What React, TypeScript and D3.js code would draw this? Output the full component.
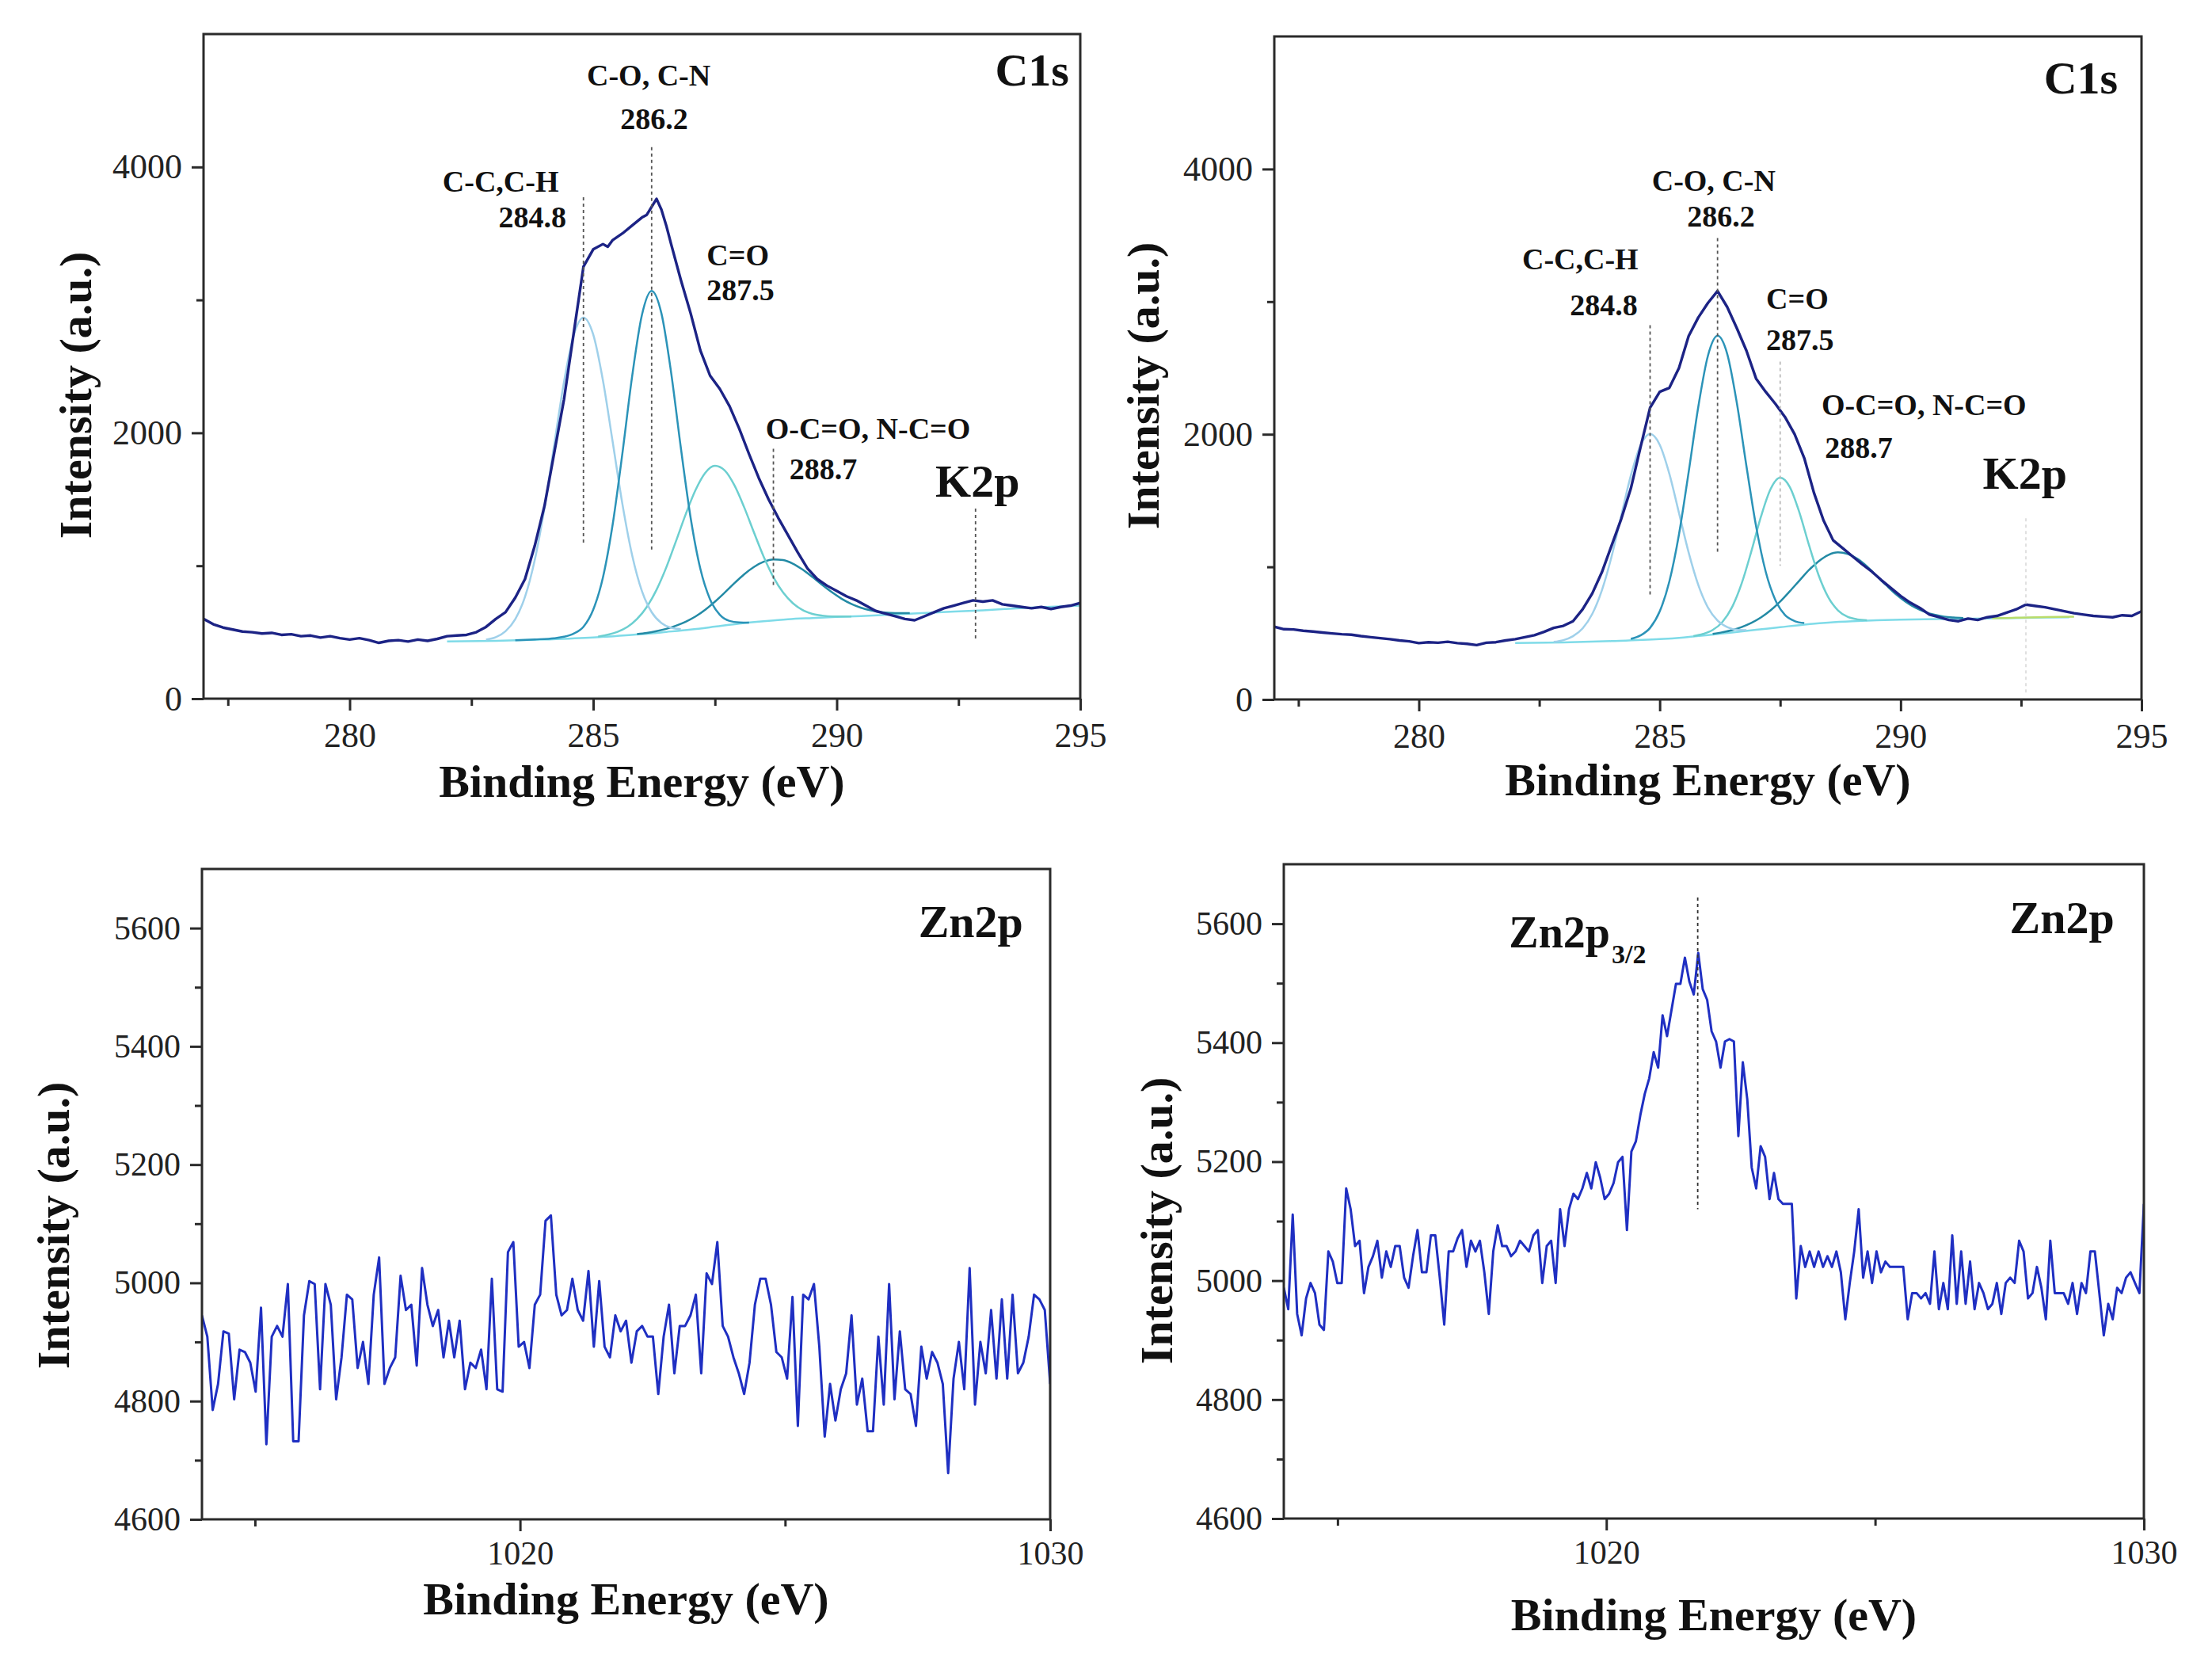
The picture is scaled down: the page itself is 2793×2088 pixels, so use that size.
import React, { useRef, useEffect } from 'react';
import * as d3 from 'd3';

type Pt = [number, number];

const FONT = '"Liberation Serif", "Times New Roman", serif';

// ---- C1s, first sample (top left) ----
const c1sEnvelope1: Pt[] = [
  [277.0, 600], [277.2, 560], [277.4, 535], [277.6, 520], [277.8, 505], [278.0, 500], [278.2, 490], [278.4, 495],
  [278.6, 480], [278.8, 485], [279.0, 470], [279.2, 475], [279.4, 460], [279.6, 470], [279.8, 455], [280.0, 445],
  [280.2, 455], [280.4, 440], [280.6, 420], [280.8, 435], [281.0, 440], [281.2, 430], [281.4, 445], [281.6, 435],
  [281.8, 450], [282.0, 470], [282.2, 475], [282.4, 480], [282.6, 500], [282.8, 540], [283.0, 600], [283.2, 650],
  [283.4, 760], [283.6, 900], [283.8, 1150], [284.0, 1450], [284.2, 1850], [284.4, 2250], [284.6, 2750], [284.8, 3250],
  [285.0, 3380], [285.2, 3420], [285.3, 3400], [285.4, 3450], [285.6, 3500], [285.8, 3560], [286.0, 3620], [286.1, 3640],
  [286.2, 3700], [286.3, 3760], [286.4, 3680], [286.5, 3560], [286.6, 3420], [286.8, 3150], [287.0, 2900], [287.2, 2620],
  [287.4, 2430], [287.6, 2330], [287.8, 2200], [288.0, 2030], [288.2, 1840], [288.4, 1660], [288.6, 1500], [288.8, 1360],
  [289.0, 1230], [289.2, 1100], [289.4, 980], [289.6, 900], [289.8, 850], [290.0, 810], [290.2, 770], [290.4, 740],
  [290.6, 700], [290.8, 660], [291.0, 640], [291.2, 620], [291.4, 600], [291.6, 590], [291.8, 620], [292.0, 650],
  [292.2, 680], [292.4, 700], [292.6, 720], [292.8, 740], [293.0, 730], [293.2, 740], [293.4, 710], [293.6, 700],
  [293.8, 690], [294.0, 680], [294.2, 690], [294.4, 675], [294.6, 690], [294.8, 700], [295.0, 720],
];
const c1sBackground1: Pt[] = [
  [282, 430], [283, 435], [284, 445], [285, 460], [285.5, 472], [286, 485], [286.5, 502], [287, 520], [287.5, 542],
  [288, 565], [288.5, 583], [289, 598], [289.5, 607], [290, 615], [290.5, 622], [291, 630], [292, 648], [293, 665],
  [294, 685], [295, 700],
];
const c1sCC1: Pt[] = [
  [282.8, 444], [283.0, 462], [283.2, 507], [283.4, 598], [283.6, 766], [283.8, 1043], [284.0, 1435], [284.2, 1911],
  [284.4, 2381], [284.6, 2734], [284.8, 2867], [285.0, 2740], [285.2, 2394], [285.4, 1932], [285.6, 1464], [285.8, 1079],
  [286.0, 810], [286.2, 651], [286.4, 569], [286.6, 533], [286.8, 523],
];
const c1sCO1: Pt[] = [
  [283.4, 440], [283.8, 446], [284.2, 455], [284.4, 466], [284.6, 490], [284.8, 541], [285.0, 669], [285.2, 912],
  [285.4, 1311], [285.6, 1847], [285.8, 2426], [286.0, 2886], [286.2, 3068], [286.4, 2900], [286.6, 2453], [286.8, 1886],
  [287.0, 1362], [287.2, 977], [287.4, 747], [287.6, 631], [287.8, 585], [288.0, 574], [288.2, 572],
];
const c1sCdO1: Pt[] = [
  [285.1, 467], [285.3, 481], [285.5, 503], [285.7, 539], [285.9, 599], [286.1, 690], [286.3, 819], [286.5, 987],
  [286.7, 1185], [286.9, 1388], [287.1, 1569], [287.3, 1699], [287.5, 1752], [287.7, 1717], [287.9, 1605], [288.1, 1440],
  [288.3, 1251], [288.5, 1068], [288.7, 914], [288.9, 798], [289.1, 718], [289.3, 667], [289.5, 638], [289.7, 625],
  [289.9, 619], [290.3, 619],
];
const c1sOCO1: Pt[] = [
  [285.9, 486], [286.1, 495], [286.3, 508], [286.5, 525], [286.7, 549], [286.9, 579], [287.1, 618], [287.3, 669],
  [287.5, 730], [287.7, 798], [287.9, 869], [288.1, 936], [288.3, 991], [288.5, 1030], [288.7, 1048], [288.9, 1043],
  [289.1, 1016], [289.3, 971], [289.5, 916], [289.7, 857], [289.9, 801], [290.1, 752], [290.3, 713], [290.5, 684],
  [290.7, 664], [290.9, 651], [291.1, 645], [291.3, 643], [291.5, 644],
];

// ---- C1s, second sample (top right) ----
const c1sEnvelope2: Pt[] = [
  [277.0, 548], [277.2, 530], [277.4, 528], [277.6, 518], [277.8, 512], [278.0, 505], [278.2, 498], [278.4, 492],
  [278.6, 488], [278.8, 478], [279.0, 470], [279.2, 462], [279.4, 455], [279.6, 445], [279.8, 438], [280.0, 425],
  [280.2, 432], [280.4, 428], [280.6, 435], [280.8, 425], [281.0, 420], [281.2, 410], [281.4, 428], [281.6, 432],
  [281.8, 445], [282.0, 455], [282.2, 470], [282.4, 485], [282.6, 510], [282.8, 540], [283.0, 555], [283.2, 590],
  [283.4, 680], [283.6, 800], [283.8, 960], [284.0, 1160], [284.2, 1360], [284.4, 1590], [284.6, 1900], [284.8, 2200],
  [285.0, 2320], [285.2, 2350], [285.4, 2500], [285.6, 2740], [285.8, 2880], [286.0, 2990], [286.2, 3080], [286.4, 2960],
  [286.6, 2800], [286.8, 2630], [287.0, 2420], [287.2, 2320], [287.4, 2230], [287.6, 2130], [287.8, 2000], [288.0, 1820],
  [288.2, 1560], [288.4, 1350], [288.6, 1200], [288.8, 1140], [289.0, 1080], [289.2, 1020], [289.4, 965], [289.6, 900],
  [289.8, 840], [290.0, 780], [290.2, 730], [290.4, 690], [290.6, 640], [290.8, 620], [291.0, 600], [291.2, 590],
  [291.4, 610], [291.6, 600], [291.8, 620], [292.0, 630], [292.2, 655], [292.4, 680], [292.6, 715], [292.8, 705],
  [293.0, 695], [293.2, 680], [293.4, 665], [293.6, 650], [293.8, 640], [294.0, 630], [294.2, 625], [294.4, 620],
  [294.6, 635], [294.8, 630], [295.0, 665],
];
const c1sBackground2: Pt[] = [
  [282, 425], [283, 430], [284, 440], [285, 455], [285.5, 468], [286, 485], [286.5, 505], [287, 525], [287.5, 545],
  [288, 565], [288.5, 580], [289, 590], [289.5, 597], [290, 602], [290.5, 605], [291, 607], [292, 612], [293, 618],
  [293.5, 620],
];
const c1sCC2: Pt[] = [
  [282.8, 434], [283.0, 447], [283.2, 477], [283.4, 536], [283.6, 645], [283.8, 824], [284.0, 1077], [284.2, 1384],
  [284.4, 1688], [284.6, 1915], [284.8, 2002], [285.0, 1921], [285.2, 1702], [285.4, 1406], [285.6, 1109], [285.8, 864],
  [286.0, 694], [286.2, 595], [286.4, 546], [286.6, 526], [286.8, 523],
];
const c1sCO2: Pt[] = [
  [284.4, 457], [284.6, 483], [284.8, 540], [285.0, 664], [285.2, 890], [285.4, 1246], [285.6, 1714], [285.8, 2206],
  [286.0, 2591], [286.2, 2743], [286.4, 2607], [286.6, 2237], [286.8, 1759], [287.0, 1306], [287.2, 963], [287.4, 750],
  [287.6, 637], [287.8, 591], [288.0, 576],
];
const c1sCdO2: Pt[] = [
  [285.7, 478], [285.9, 494], [286.1, 524], [286.3, 584], [286.5, 695], [286.7, 874], [286.9, 1115], [287.1, 1377],
  [287.3, 1586], [287.5, 1672], [287.7, 1602], [287.9, 1409], [288.1, 1162], [288.3, 935], [288.5, 770], [288.7, 672],
  [288.9, 623], [289.1, 604], [289.3, 598],
];
const c1sOCO2: Pt[] = [
  [286.1, 494], [286.3, 507], [286.5, 523], [286.7, 546], [286.9, 577], [287.1, 618], [287.3, 672], [287.5, 738],
  [287.7, 816], [287.9, 897], [288.1, 977], [288.3, 1043], [288.5, 1090], [288.7, 1109], [288.9, 1098], [289.1, 1061],
  [289.3, 1004], [289.5, 933], [289.7, 862], [289.9, 794], [290.1, 738], [290.3, 693], [290.5, 661], [290.7, 639],
  [290.9, 625], [291.1, 618], [291.3, 614],
];
const k2pFit2: Pt[] = [[291.9, 612], [292.5, 617], [293.0, 621], [293.6, 624]];

// ---- Zn2p spectra, recorded from 1014 to 1030 eV ----
const znStart = 1014;
const znEnd = 1030;
const zn2pCounts1 = [
  4945, 4909, 4785, 4829, 4918, 4914, 4803, 4887, 4883, 4865,
  4816, 4958, 4727, 4909, 4927, 4909, 4998, 4732, 4732, 4945,
  5003, 4998, 4820, 4998, 4963, 4803, 4874, 4980, 4972, 4856,
  4900, 4829, 4980, 5043, 4829, 4856, 4874, 5012, 4954, 4963,
  4860, 5025, 4963, 4927, 4954, 4874, 4936, 4874, 4936, 4820,
  4865, 4856, 4887, 4820, 5007, 4820, 4816, 5052, 5069, 4892,
  4900, 4856, 4963, 4980, 5105, 5114, 4980, 4945, 4954, 5007,
  4954, 4936, 5020, 4892, 5003, 4892, 4874, 4945, 4918, 4936,
  4865, 4918, 4927, 4909, 4909, 4812, 4909, 4963, 4847, 4927,
  4927, 4945, 4980, 4847, 5016, 4998, 5069, 4927, 4909, 4874,
  4847, 4812, 4865, 4963, 5007, 5007, 4963, 4883, 4874, 4838,
  4976, 4758, 4980, 4972, 4998, 4892, 4740, 4829, 4767, 4820,
  4847, 4945, 4794, 4838, 4749, 4749, 4909, 4794, 4998, 4803,
  4918, 4820, 4812, 4758, 4892, 4838, 4883, 4865, 4829, 4678,
  4838, 4900, 4820, 5025, 4794, 4900, 4847, 4954, 4838, 4972,
  4838, 4980, 4847, 4865, 4909, 4980, 4972, 4954, 4829,
];
const zn2pCounts2 = [
  4988, 4952, 5111, 4944, 4908, 4970, 4996, 4979, 4926, 4917,
  5049, 5032, 4996, 4996, 5155, 5120, 5058, 5067, 4979, 5023,
  5041, 5067, 5005, 5049, 5023, 5058, 5058, 5005, 4988, 5041,
  5085, 5014, 5014, 5076, 5076, 5005, 4926, 5049, 5049, 5071,
  5085, 5023, 5067, 5049, 5067, 5014, 4944, 5049, 5093, 5058,
  5058, 5041, 5049, 5067, 5058, 5049, 5076, 5085, 4996, 5058,
  5067, 4996, 5120, 5058, 5120, 5146, 5137, 5155, 5181, 5155,
  5199, 5173, 5137, 5146, 5164, 5199, 5208, 5085, 5217, 5234,
  5278, 5314, 5340, 5384, 5358, 5446, 5411, 5455, 5499, 5499,
  5543, 5503, 5481, 5551, 5490, 5472, 5419, 5402, 5358, 5402,
  5406, 5402, 5243, 5367, 5305, 5190, 5155, 5226, 5208, 5137,
  5181, 5137, 5129, 5129, 5129, 4970, 5058, 5023, 5049, 5023,
  5049, 5023, 5041, 5023, 5049, 5014, 4935, 4996, 5049, 5120,
  5005, 5049, 4996, 5049, 5014, 5032, 5023, 5023, 5023, 5023,
  4935, 4979, 4979, 4970, 4979, 4961, 5049, 4952, 4996, 4952,
  5076, 4961, 5049, 4961, 5032, 4952, 4996, 4979, 4952, 4961,
  4996, 4944, 4996, 5005, 4996, 5067, 5049, 4970, 4979, 5023,
  4988, 4935, 5067, 4979, 4979, 4979, 4961, 4996, 4944, 4996,
  4979, 5049, 5049, 4979, 4908, 4961, 4935, 4988, 4979, 5005,
  5014, 4996, 4979, 5129,
];

const c1sXMajor = [280, 285, 290, 295];
const c1sXMinor = [277.5, 282.5, 287.5, 292.5];
const c1sYMajor = [0, 2000, 4000];
const c1sYMinor = [1000, 3000];
const znXMajor = [1020, 1030];
const znXMinor = [1015, 1025];
const znYMajor = [4600, 4800, 5000, 5200, 5400, 5600];
const znYMinor = [4700, 4900, 5100, 5300, 5500];

const NAVY = '#1c2385';
const ZN_BLUE = '#1f2fc2';
const COLORS = { cc: '#9fd0ea', co: '#2b93b8', cdo: '#6ccfd0', oco: '#238aa5', bg: '#7fdbe8', k2p: '#b9dc6a' };
const NOTE_SIZE = 38;

// spread counts evenly over the recorded energy window
const toSpectrum = (counts: number[]): Pt[] => {
  const step = (znEnd - znStart) / (counts.length - 1);
  return counts.map((c, i) => [znStart + i * step, c] as Pt);
};

interface Trace { points: Pt[]; color: string; width: number; smooth?: boolean }
interface Note { text: string; x: number; y: number; size: number; anchor?: string; sub?: string }
interface Drop { x: number; y0: number; y1: number; color: string }
interface PanelSpec {
  id: string;
  frame: { left: number; top: number; right: number; bottom: number };
  xDomain: [number, number];
  yDomain: [number, number];
  xMajor: number[]; xMinor: number[]; yMajor: number[]; yMinor: number[];
  xLabelPad: number;
  tickFont: number;
  traces: Trace[];
  notes: Note[];
  drops: Drop[];
  yTitle: { x: number; y: number };
  xTitleY: number;
}

const c1sComponents = (bg: Pt[], cc: Pt[], co: Pt[], cdo: Pt[], oco: Pt[]): Trace[] => [
  { points: bg, color: COLORS.bg, width: 2.5, smooth: true },
  { points: oco, color: COLORS.oco, width: 2.5, smooth: true },
  { points: cdo, color: COLORS.cdo, width: 2.5, smooth: true },
  { points: cc, color: COLORS.cc, width: 2.5, smooth: true },
  { points: co, color: COLORS.co, width: 2.5, smooth: true },
];

const panels: PanelSpec[] = [
  {
    id: 'c1s-a',
    frame: { left: 257, top: 43, right: 1364, bottom: 882 },
    xDomain: [277, 295], yDomain: [0, 5000],
    xMajor: c1sXMajor, xMinor: c1sXMinor, yMajor: c1sYMajor, yMinor: c1sYMinor,
    xLabelPad: 15,
    tickFont: 44,
    traces: [
      ...c1sComponents(c1sBackground1, c1sCC1, c1sCO1, c1sCdO1, c1sOCO1),
      { points: c1sEnvelope1, color: NAVY, width: 3.4 },
    ],
    notes: [
      { text: 'C1s', x: 294.77, y: 4613, size: 58, anchor: 'end' },
      { text: 'C-O, C-N', x: 286.14, y: 4610, size: NOTE_SIZE, anchor: 'middle' },
      { text: '286.2', x: 286.25, y: 4285, size: NOTE_SIZE, anchor: 'middle' },
      { text: 'C-C,C-H', x: 283.1, y: 3814, size: NOTE_SIZE, anchor: 'middle' },
      { text: '284.8', x: 283.75, y: 3546, size: NOTE_SIZE, anchor: 'middle' },
      { text: 'C=O', x: 287.33, y: 3260, size: NOTE_SIZE },
      { text: '287.5', x: 287.33, y: 2998, size: NOTE_SIZE },
      { text: 'O-C=O, N-C=O', x: 288.54, y: 1955, size: NOTE_SIZE },
      { text: '288.7', x: 289.03, y: 1651, size: NOTE_SIZE },
      { text: 'K2p', x: 292.89, y: 1520, size: 58, anchor: 'middle' },
    ],
    drops: [
      { x: 284.8, y0: 3772, y1: 1167, color: '#555' },
      { x: 286.2, y0: 4150, y1: 1120, color: '#555' },
      { x: 288.7, y0: 1880, y1: 840, color: '#555' },
      { x: 292.85, y0: 1430, y1: 440, color: '#555' },
    ],
    yTitle: { x: 95, y: 499 },
    xTitleY: 1006,
  },
  {
    id: 'c1s-b',
    frame: { left: 1609, top: 46, right: 2704, bottom: 883 },
    xDomain: [277, 295], yDomain: [0, 5000],
    xMajor: c1sXMajor, xMinor: c1sXMinor, yMajor: c1sYMajor, yMinor: c1sYMinor,
    xLabelPad: 15,
    tickFont: 44,
    traces: [
      ...c1sComponents(c1sBackground2, c1sCC2, c1sCO2, c1sCdO2, c1sOCO2),
      { points: k2pFit2, color: COLORS.k2p, width: 2.5, smooth: true },
      { points: c1sEnvelope2, color: NAVY, width: 3.4 },
    ],
    notes: [
      { text: 'C1s', x: 294.51, y: 4570, size: 58, anchor: 'end' },
      { text: 'C-O, C-N', x: 286.12, y: 3835, size: NOTE_SIZE, anchor: 'middle' },
      { text: '286.2', x: 286.27, y: 3566, size: NOTE_SIZE, anchor: 'middle' },
      { text: 'C-C,C-H', x: 283.35, y: 3244, size: NOTE_SIZE, anchor: 'middle' },
      { text: '284.8', x: 283.84, y: 2897, size: NOTE_SIZE, anchor: 'middle' },
      { text: 'C=O', x: 287.21, y: 2945, size: NOTE_SIZE },
      { text: '287.5', x: 287.21, y: 2634, size: NOTE_SIZE },
      { text: 'O-C=O, N-C=O', x: 288.36, y: 2145, size: NOTE_SIZE },
      { text: '288.7', x: 288.43, y: 1822, size: NOTE_SIZE },
      { text: 'K2p', x: 292.58, y: 1589, size: 58, anchor: 'middle' },
    ],
    drops: [
      { x: 284.8, y0: 2822, y1: 787, color: '#555' },
      { x: 286.2, y0: 3480, y1: 1109, color: '#555' },
      { x: 287.5, y0: 2548, y1: 1008, color: '#bbb' },
      { x: 292.6, y0: 1366, y1: 30, color: '#ddd' },
    ],
    yTitle: { x: 1443, y: 487 },
    xTitleY: 1004,
  },
  {
    id: 'zn-a',
    frame: { left: 255, top: 1097, right: 1326, bottom: 1918 },
    xDomain: [znStart, znEnd], yDomain: [4600, 5700],
    xMajor: znXMajor, xMinor: znXMinor, yMajor: znYMajor, yMinor: znYMinor,
    xLabelPad: 12,
    tickFont: 42,
    traces: [{ points: toSpectrum(zn2pCounts1), color: ZN_BLUE, width: 3 }],
    notes: [{ text: 'Zn2p', x: 1029.49, y: 5585, size: 58, anchor: 'end' }],
    drops: [],
    yTitle: { x: 67, y: 1547 },
    xTitleY: 2038,
  },
  {
    id: 'zn-b',
    frame: { left: 1621, top: 1091, right: 2707, bottom: 1917 },
    xDomain: [znStart, znEnd], yDomain: [4600, 5700],
    xMajor: znXMajor, xMinor: znXMinor, yMajor: znYMajor, yMinor: znYMinor,
    xLabelPad: 12,
    tickFont: 42,
    traces: [{ points: toSpectrum(zn2pCounts2), color: ZN_BLUE, width: 3 }],
    notes: [
      { text: 'Zn2p', x: 1029.45, y: 5584, size: 58, anchor: 'end' },
      { text: 'Zn2p', x: 1020.07, y: 5560, size: 56, anchor: 'end', sub: '3/2' },
    ],
    drops: [{ x: 1021.7, y0: 5644, y1: 5120, color: '#333' }],
    yTitle: { x: 1460, y: 1541 },
    xTitleY: 2058,
  },
];

function drawPanel(root: d3.Selection<SVGSVGElement, unknown, null, undefined>, spec: PanelSpec) {
  const { frame } = spec;
  const x = d3.scaleLinear().domain(spec.xDomain).range([frame.left, frame.right]);
  const y = d3.scaleLinear().domain(spec.yDomain).range([frame.bottom, frame.top]);
  const g = root.append('g').attr('class', spec.id);

  const clipId = `clip-${spec.id}`;
  g.append('clipPath').attr('id', clipId)
    .append('rect')
    .attr('x', frame.left).attr('y', frame.top)
    .attr('width', frame.right - frame.left).attr('height', frame.bottom - frame.top);

  // spectra and fitted components
  spec.traces.forEach(t => {
    const line = d3.line<Pt>().x(d => x(d[0])).y(d => y(d[1]));
    if (t.smooth) line.curve(d3.curveMonotoneX);
    g.append('path')
      .attr('d', line(t.points) || '')
      .attr('fill', 'none')
      .attr('stroke', t.color)
      .attr('stroke-width', t.width)
      .attr('stroke-linejoin', 'round')
      .attr('clip-path', `url(#${clipId})`);
  });

  // dashed peak markers
  spec.drops.forEach(dl => {
    g.append('line')
      .attr('x1', x(dl.x)).attr('x2', x(dl.x))
      .attr('y1', y(dl.y0)).attr('y2', y(dl.y1))
      .attr('stroke', dl.color)
      .attr('stroke-width', 1.8)
      .attr('stroke-dasharray', '4,4');
  });

  // frame
  g.append('rect')
    .attr('x', frame.left).attr('y', frame.top)
    .attr('width', frame.right - frame.left).attr('height', frame.bottom - frame.top)
    .attr('fill', 'none')
    .attr('stroke', '#2a2a2a')
    .attr('stroke-width', 3);

  const styleAxis = (sel: d3.Selection<SVGGElement, unknown, null, undefined>) => {
    sel.select('.domain').remove();
    sel.selectAll('line').attr('stroke', '#2a2a2a').attr('stroke-width', 3);
    sel.attr('font-family', FONT).attr('font-size', spec.tickFont).attr('fill', '#222');
    sel.selectAll('text').attr('fill', '#222');
  };

  g.append('g')
    .attr('transform', `translate(0,${frame.bottom})`)
    .call(d3.axisBottom(x).tickValues(spec.xMajor).tickSize(15).tickPadding(spec.xLabelPad).tickFormat(d3.format('d')))
    .call(styleAxis);
  g.append('g')
    .attr('transform', `translate(0,${frame.bottom})`)
    .call(d3.axisBottom(x).tickValues(spec.xMinor).tickSize(9).tickFormat(() => ''))
    .call(styleAxis);
  g.append('g')
    .attr('transform', `translate(${frame.left},0)`)
    .call(d3.axisLeft(y).tickValues(spec.yMajor).tickSize(15).tickPadding(12).tickFormat(d3.format('d')))
    .call(styleAxis);
  g.append('g')
    .attr('transform', `translate(${frame.left},0)`)
    .call(d3.axisLeft(y).tickValues(spec.yMinor).tickSize(9).tickFormat(() => ''))
    .call(styleAxis);

  // annotations
  spec.notes.forEach(n => {
    g.append('text')
      .attr('x', x(n.x))
      .attr('y', y(n.y))
      .attr('text-anchor', n.anchor || 'start')
      .attr('font-family', FONT)
      .attr('font-weight', 'bold')
      .attr('font-size', n.size)
      .attr('fill', '#111')
      .text(n.text);
    if (n.sub) {
      g.append('text')
        .attr('x', x(n.x) + 2)
        .attr('y', y(n.y) + 20)
        .attr('font-family', FONT)
        .attr('font-weight', 'bold')
        .attr('font-size', 34)
        .attr('fill', '#111')
        .text(n.sub);
    }
  });

  // axis titles
  g.append('text')
    .attr('x', (frame.left + frame.right) / 2)
    .attr('y', spec.xTitleY)
    .attr('text-anchor', 'middle')
    .attr('font-family', FONT)
    .attr('font-weight', 'bold')
    .attr('font-size', 58)
    .attr('fill', '#111')
    .text('Binding Energy (eV)');
  g.append('text')
    .attr('transform', `translate(${spec.yTitle.x},${spec.yTitle.y}) rotate(-90)`)
    .attr('text-anchor', 'middle')
    .attr('dy', '0.35em')
    .attr('font-family', FONT)
    .attr('font-weight', 'bold')
    .attr('font-size', 58)
    .attr('fill', '#111')
    .text('Intensity (a.u.)');
}

const App = () => {
  const svgRef = useRef<SVGSVGElement>(null);

  useEffect(() => {
    const svg = d3.select(svgRef.current as SVGSVGElement);
    svg.selectAll('*').remove();
    svg.append('rect').attr('width', 2793).attr('height', 2088).attr('fill', '#fff');
    panels.forEach(p => drawPanel(svg, p));
  }, []);

  return (
    <svg
      ref={svgRef}
      width={2793}
      height={2088}
      style={{ position: 'absolute', left: 0, top: 0, display: 'block' }}
    />
  );
};

export default App;
